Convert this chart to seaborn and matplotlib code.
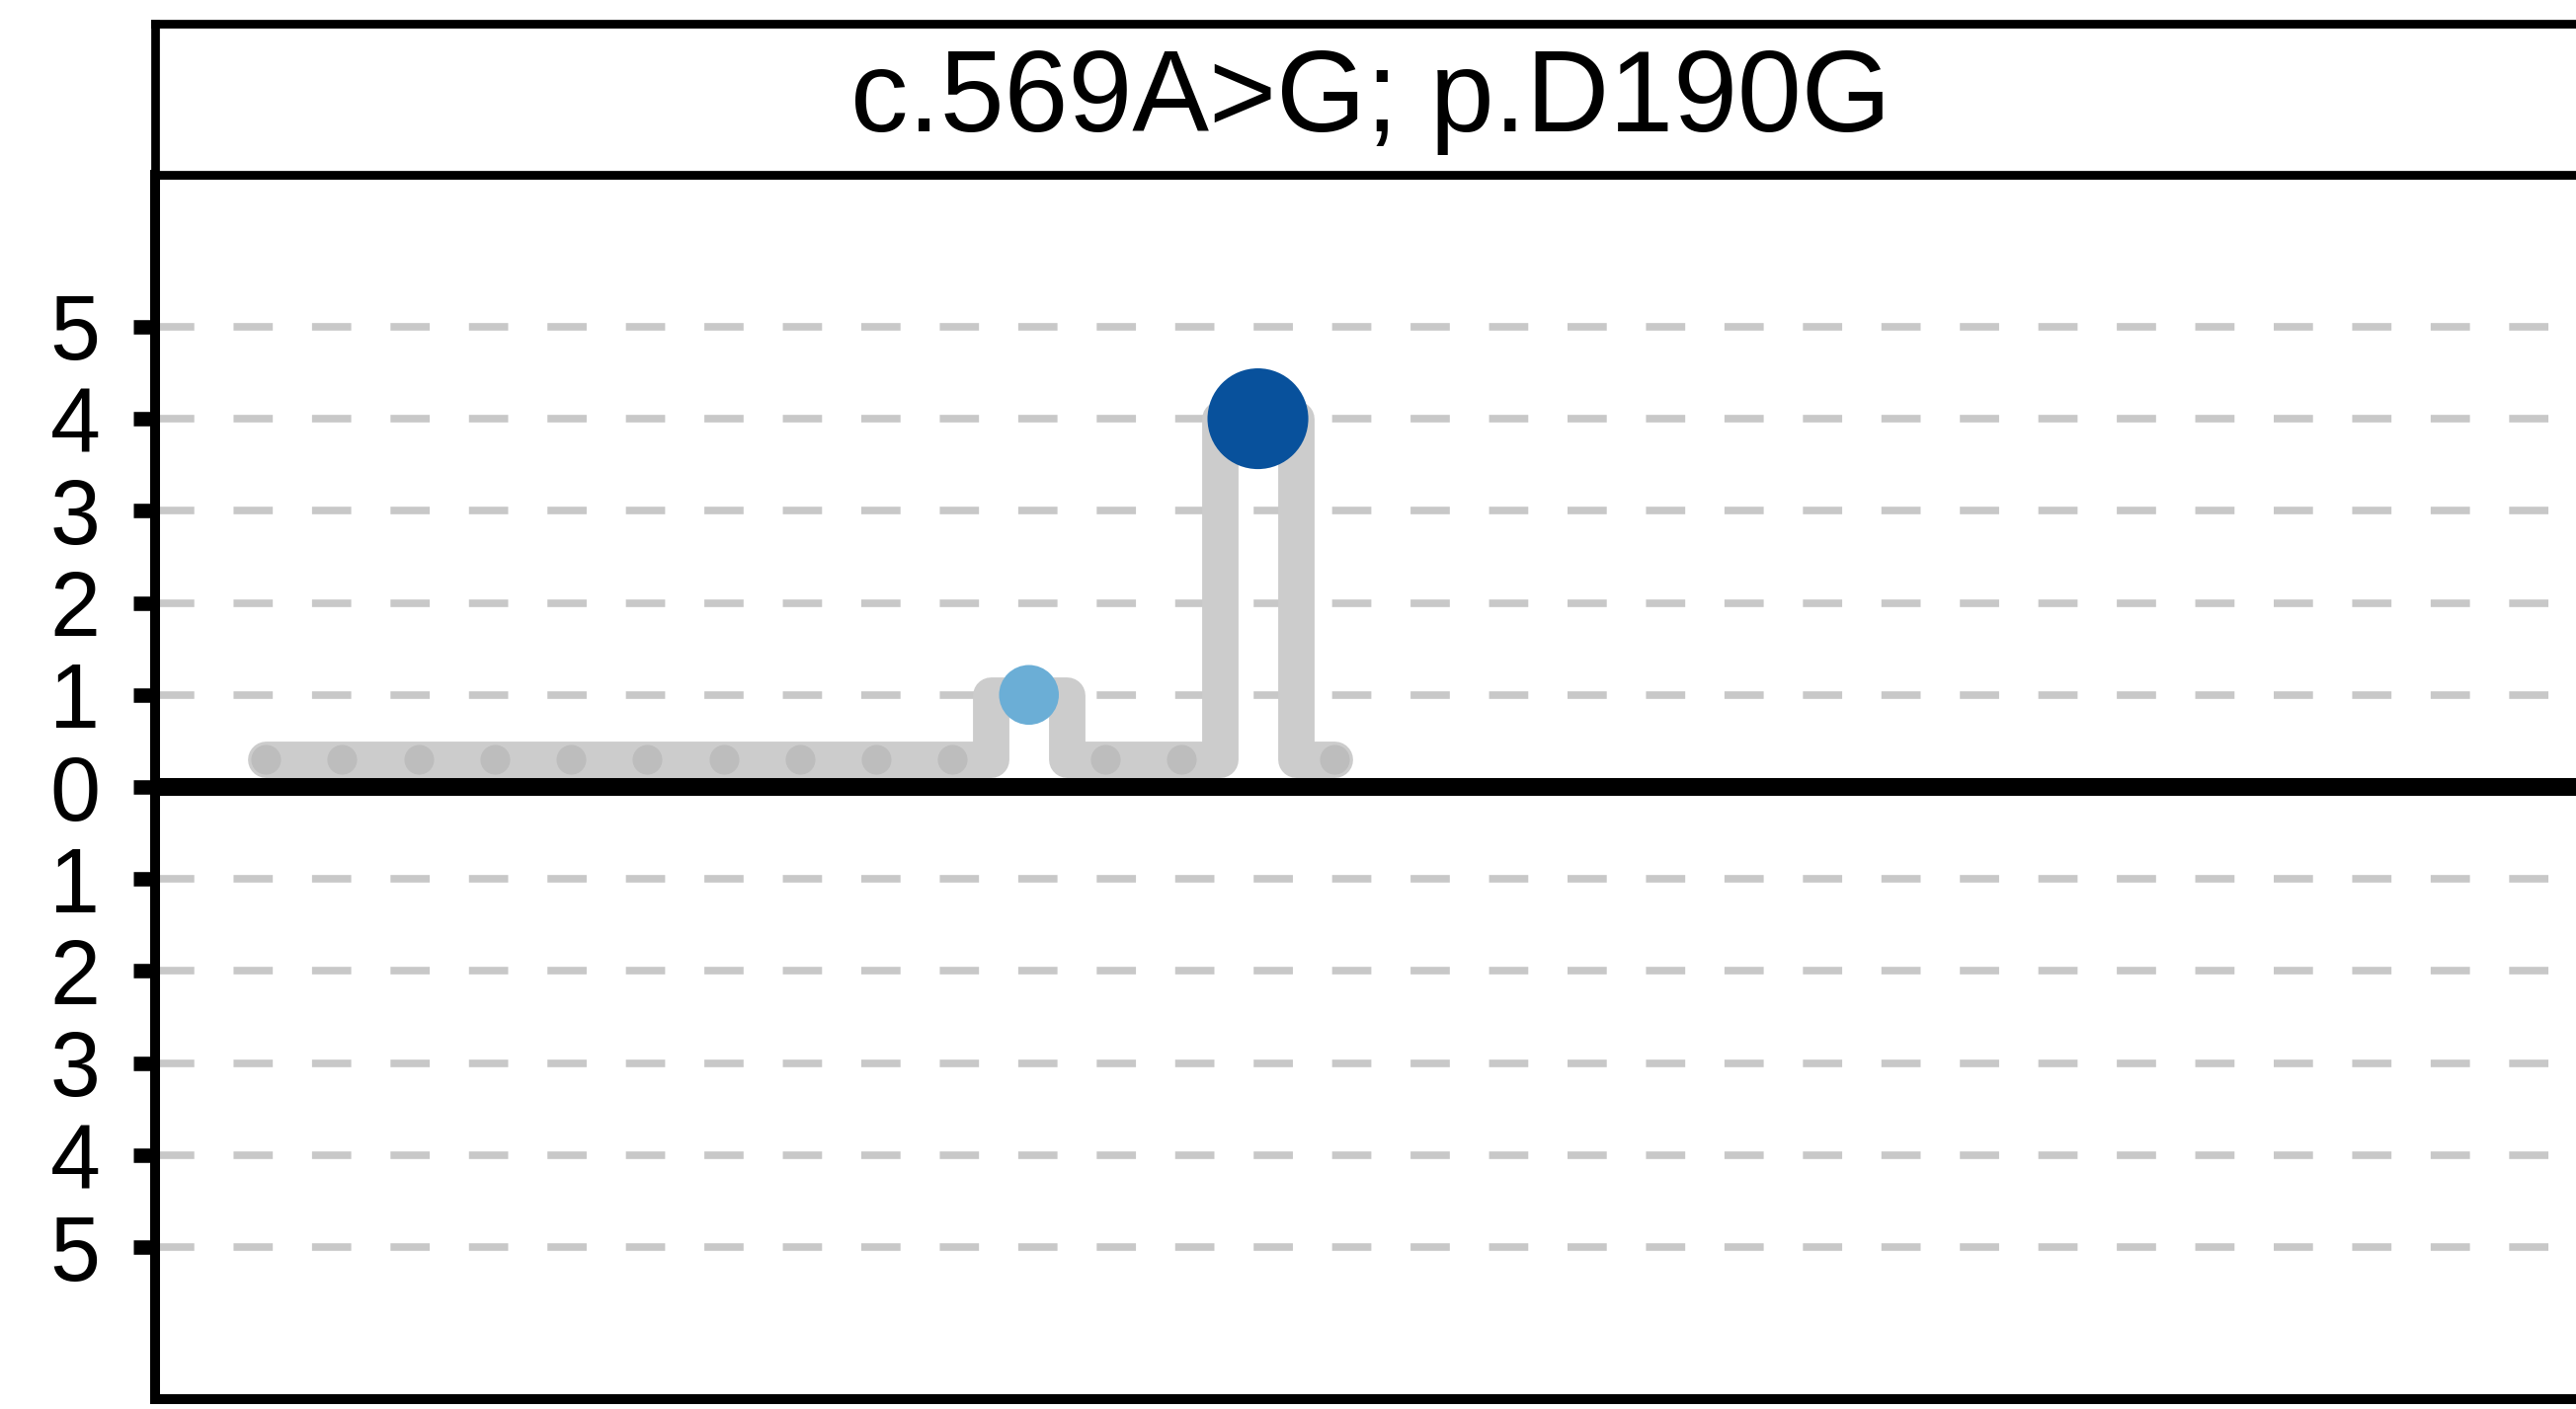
import numpy as np
import pandas as pd
import matplotlib
matplotlib.use("Agg")
import matplotlib.pyplot as plt
import seaborn as sns

# ---- data ----
positions = [180, 181, 182, 183, 184, 185, 186, 187, 188, 189, 190, 191, 192, 193, 194]
counts    = [0, 0, 0, 0, 0, 0, 0, 0, 0, 0, 1, 0, 0, 4, 0]
title_text = "c.569A>G; p.D190G"
ytick_values = [5, 4, 3, 2, 1, 0, -1, -2, -3, -4, -5]
ytick_labels = ["5", "4", "3", "2", "1", "0", "1", "2", "3", "4", "5"]

# ---- style ----
sns.set_theme(style="white")
plt.rcParams['font.family'] = ['Liberation Sans', 'DejaVu Sans']

BASE = 0.30          # baseline height of the gray track
HALF = 0.5           # half width of the detour around a raised point
track_color = "#cccccc"
dot_gray = "#bdbdbd"
palette = {1: "#6baed6", 4: "#08519c"}
size_map = {1: 1900, 4: 5400}

df = pd.DataFrame({"pos": positions, "count": counts})

# gray track path built from data
px, py = [], []
for p, c in zip(positions, counts):
    if c == 0:
        px.append(p); py.append(BASE)
    else:
        px += [p - HALF, p - HALF, p + HALF, p + HALF]
        py += [BASE, c, c, BASE]
track = pd.DataFrame({"x": px, "y": py})

W, H, DPI = 2608, 1427, 100
fig = plt.figure(figsize=(W / DPI, H / DPI), dpi=DPI)
fig.patch.set_facecolor("white")

ax_left = 157 / W
ax_bottom = 10 / H
ax_top = (H - 177) / H
ax_right = 2618 / W
ax = fig.add_axes([ax_left, ax_bottom, ax_right - ax_left, ax_top - ax_bottom])
strip_top = (H - 24) / H
sax = fig.add_axes([ax_left, ax_top, ax_right - ax_left, strip_top - ax_top])

# grid lines (dashed) at non-zero ticks
for yv in ytick_values:
    if yv != 0:
        ax.axhline(yv, color="#c8c8c8", lw=5.5, ls=(0, (5.2, 5.2)), zorder=1)
ax.axhline(0, color="black", lw=13, zorder=3, solid_capstyle="butt")

# gray track
sns.lineplot(data=track, x="x", y="y", sort=False, estimator=None, ax=ax,
             color=track_color, lw=26.5, zorder=2, legend=False)
ln = ax.lines[-1]
ln.set_solid_capstyle("round")
ln.set_solid_joinstyle("round")

# gray baseline dots
zero = df[df["count"] == 0].copy()
zero["yb"] = BASE
sns.scatterplot(data=zero, x="pos", y="yb", ax=ax, color=dot_gray, s=470,
                linewidth=0, zorder=4, legend=False)

# colored dots
hits = df[df["count"] > 0]
sns.scatterplot(data=hits, x="pos", y="count", hue="count", size="count",
                palette=palette, sizes=size_map, ax=ax, linewidth=0,
                zorder=5, legend=False)

ax.set_xlim(178.55, 210.4)
ax.set_ylim(-6.65, 6.65)
ax.set_yticks(ytick_values)
ax.set_yticklabels(ytick_labels)
ax.set_xticks([])
ax.set_xlabel("")
ax.set_ylabel("")
ax.tick_params(axis="y", which="major", left=True, length=16, width=10.5,
               color="black", pad=24, labelsize=66, labelcolor="black")
for sp in ax.spines.values():
    sp.set_visible(True)
    sp.set_color("black")
    sp.set_linewidth(7.2)
ax.set_facecolor("white")

# strip
sax.set_xticks([]); sax.set_yticks([])
sax.set_facecolor("white")
for sp in sax.spines.values():
    sp.set_visible(True)
    sp.set_color("black")
    sp.set_linewidth(6.3)
sax.text(0.5, 0.29, title_text, ha="center", va="baseline", fontsize=84,
         color="black", transform=sax.transAxes)

fig.savefig("out.png", dpi=DPI, facecolor="white")
